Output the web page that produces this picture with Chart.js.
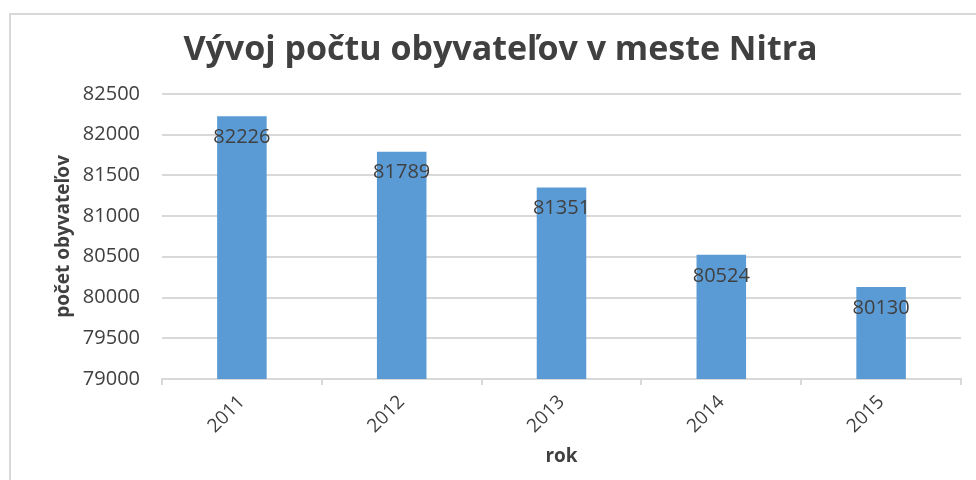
<!DOCTYPE html>
<html>
<head>
<meta charset="utf-8">
<script src="https://cdn.jsdelivr.net/npm/chart.js@4"></script>
<style>
  body { margin: 0; background: #fff; }
  #wrap { position: relative; width: 976px; height: 480px; overflow: hidden; }
  #frame { position: absolute; left: 9px; top: 13px; width: 1000px; height: 500px; border: 2px solid #d9d9d9; }
  #chart { position: absolute; left: 0; top: 0; }
</style>
</head>
<body>
<div id="wrap">
  <div id="frame"></div>
  <canvas id="chart" width="976" height="480"></canvas>
</div>
<script>
const years = ["2011", "2012", "2013", "2014", "2015"];
const population = [82226, 81789, 81351, 80524, 80130];
const yMin = 79000;
const yMax = 82500;
const yStep = 500;

const textColor = "#404040";
const gridColor = "#d9d9d9";
const fontFamily = "'Open Sans', sans-serif";

// values written inside the bars, just under the top
const barLabels = {
  id: "barLabels",
  afterDatasetsDraw(chart) {
    const c = chart.ctx;
    const meta = chart.getDatasetMeta(0);
    c.save();
    c.font = "20px " + fontFamily;
    c.fillStyle = textColor;
    c.textAlign = "center";
    c.textBaseline = "middle";
    meta.data.forEach((bar, i) => {
      c.fillText(String(chart.data.datasets[0].data[i]), bar.x, bar.y + 21);
    });
    c.restore();
  }
};

new Chart(document.getElementById("chart"), {
  type: "bar",
  data: {
    labels: years,
    datasets: [{
      label: "počet obyvateľov",
      data: population,
      backgroundColor: "#5b9bd5",
      barPercentage: 0.31,
      categoryPercentage: 1
    }]
  },
  options: {
    responsive: false,
    animation: false,
    layout: { padding: { left: 40, right: 15, top: 0, bottom: 0 } },
    plugins: {
      legend: { display: false },
      tooltip: { enabled: false },
      title: {
        display: true,
        text: "Vývoj počtu obyvateľov v meste Nitra",
        color: textColor,
        font: { family: fontFamily, size: 34, weight: "bold", lineHeight: 1.2 },
        padding: { top: 30, bottom: 23 }
      }
    },
    scales: {
      x: {
        afterFit(scale) { scale.height = 101; },
        border: { color: gridColor, width: 2 },
        grid: { drawOnChartArea: false, drawTicks: true, tickLength: 6, color: gridColor, lineWidth: 2, offset: true },
        ticks: {
          color: textColor,
          font: { family: fontFamily, size: 19 },
          minRotation: 45,
          maxRotation: 45,
          padding: 6
        },
        title: {
          display: true,
          text: "rok",
          color: textColor,
          font: { family: fontFamily, size: 19, weight: "bold", lineHeight: 1.2 },
          padding: { bottom: 12 }
        }
      },
      y: {
        min: yMin,
        max: yMax,
        afterFit(scale) { scale.width = 122; },
        border: { display: false },
        grid: { drawTicks: false, color: gridColor, lineWidth: 2 },
        ticks: {
          stepSize: yStep,
          color: textColor,
          font: { family: fontFamily, size: 20 },
          padding: 22,
          callback: (value) => String(value)
        },
        title: {
          display: true,
          text: "počet obyvateľov",
          color: textColor,
          font: { family: fontFamily, size: 19, weight: "bold", lineHeight: 1.2 },
          padding: { top: 12 }
        }
      }
    }
  },
  plugins: [barLabels]
});
</script>
</body>
</html>
